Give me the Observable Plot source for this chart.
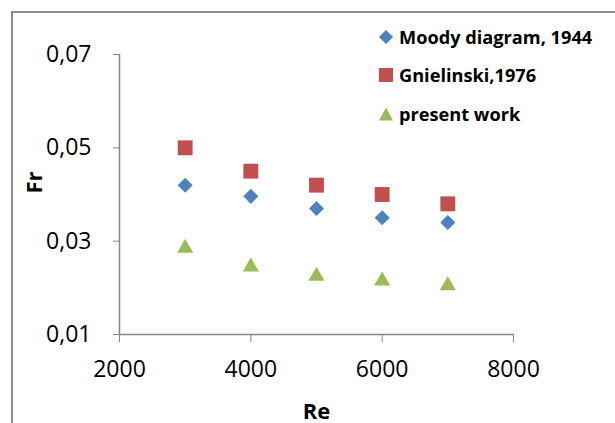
<!DOCTYPE html>
<html>
<head>
<meta charset="utf-8">
<script src="https://cdn.jsdelivr.net/npm/d3@7"></script>
<script src="https://cdn.jsdelivr.net/npm/@observablehq/plot@0.6"></script>
<style>
  html, body { margin: 0; padding: 0; background: #fff; }
  #wrap { position: relative; width: 615px; height: 423px; overflow: hidden; font-family: "Open Sans", sans-serif; }
  #frame { position: absolute; left: 11px; top: 11px; right: -10px; bottom: -10px; border-left: 2px solid #8e8e8e; border-top: 2px solid #8e8e8e; }
  #chart { position: absolute; left: 0; top: 0; }
  #legend { position: absolute; left: 378px; top: 24px; font-family: "Open Sans", sans-serif; font-weight: bold; font-size: 18.2px; color: #000; }
  .row { position: absolute; left: 0; height: 26px; display: flex; align-items: center; white-space: nowrap; }
  .row svg { margin-right: 5px; }
</style>
</head>
<body>
<div id="wrap">
  <div id="frame"></div>
  <div id="chart"></div>
  <div id="legend"></div>
</div>
<script>
// Data
const re = [3000, 4000, 5000, 6000, 7000];
const moody = [0.042, 0.0396, 0.037, 0.035, 0.034];
const gnielinski = [0.050, 0.045, 0.042, 0.040, 0.038];
const present = [0.029, 0.025, 0.023, 0.022, 0.021];
const seriesNames = ["Moody diagram, 1944", "Gnielinski,1976", "present work"];
const seriesColors = ["#4F81BD", "#C0504D", "#9BBB59"];
const xTicks = [2000, 4000, 6000, 8000];
const yTicks = [0.01, 0.03, 0.05, 0.07];

const toRows = (vals, s) => re.map((x, i) => ({x, y: vals[i], s}));
const dMoody = toRows(moody, seriesNames[0]);
const dGn = toRows(gnielinski, seriesNames[1]);
const dPr = toRows(present, seriesNames[2]);

const axisGray = "#868686";
const fmtY = d => d.toFixed(2).replace(".", ",");

const chart = Plot.plot({
  width: 615,
  height: 423,
  marginLeft: 119,
  marginRight: 102,
  marginTop: 54,
  marginBottom: 89,
  style: { fontFamily: "Open Sans, sans-serif", fontSize: "23px", color: "#000", background: "transparent" },
  x: { domain: [2000, 8000] },
  y: { domain: [0.01, 0.07] },
  marks: [
    Plot.axisY({ ticks: yTicks, tickFormat: fmtY, tickSize: 6, tickPadding: 22, stroke: axisGray, fill: "#000", fontSize: 23,
                 label: "Fr", labelAnchor: "center", labelOffset: 93, labelArrow: "none" }),
    Plot.axisX({ ticks: xTicks, tickFormat: d => String(d), tickSize: 8, tickPadding: 18, stroke: axisGray, fill: "#000", fontSize: 23,
                 label: "Re", labelAnchor: "center", labelOffset: 84, labelArrow: "none" }),
    Plot.ruleX([2000], { stroke: axisGray, strokeWidth: 1.5 }),
    Plot.ruleY([0.01], { stroke: axisGray, strokeWidth: 1.5, x1: 2000, x2: 8000 }),
    Plot.dot(dMoody, { x: "x", y: "y", symbol: "square", r: 6, rotate: 45, fill: seriesColors[0], stroke: "none" }),
    Plot.dot(dGn, { x: "x", y: "y", symbol: "square", r: 8.4, fill: seriesColors[1], stroke: "none" }),
    Plot.dot(dPr, { x: "x", y: "y", symbol: "triangle", r: 6, dy: 2.3, fill: seriesColors[2], stroke: "none" })
  ]
});
d3.select(chart).selectAll('g[aria-label="y-axis label"] text, g[aria-label="x-axis label"] text').attr("font-weight", "bold").attr("font-size", 22);
d3.select(chart).selectAll('g[aria-label="y-axis label"] text').attr("dx", 12);
document.getElementById("chart").appendChild(chart);

// Legend
const legend = d3.select("#legend");
const rowTops = [0, 38, 77];
const shapes = [
  g => g.append("rect").attr("x", 3).attr("y", 3).attr("width", 10).attr("height", 10).attr("transform", "rotate(45 8 8)"),
  g => g.append("rect").attr("x", 1).attr("y", 1).attr("width", 14).attr("height", 14),
  g => g.append("path").attr("d", "M8,1.5 L15,14.5 L1,14.5 Z")
];
seriesNames.forEach((name, i) => {
  const row = legend.append("div").attr("class", "row").style("top", rowTops[i] + "px");
  const svg = row.append("svg").attr("width", 16).attr("height", 16);
  shapes[i](svg).attr("fill", seriesColors[i]);
  row.append("span").text(name);
});
</script>
</body>
</html>
